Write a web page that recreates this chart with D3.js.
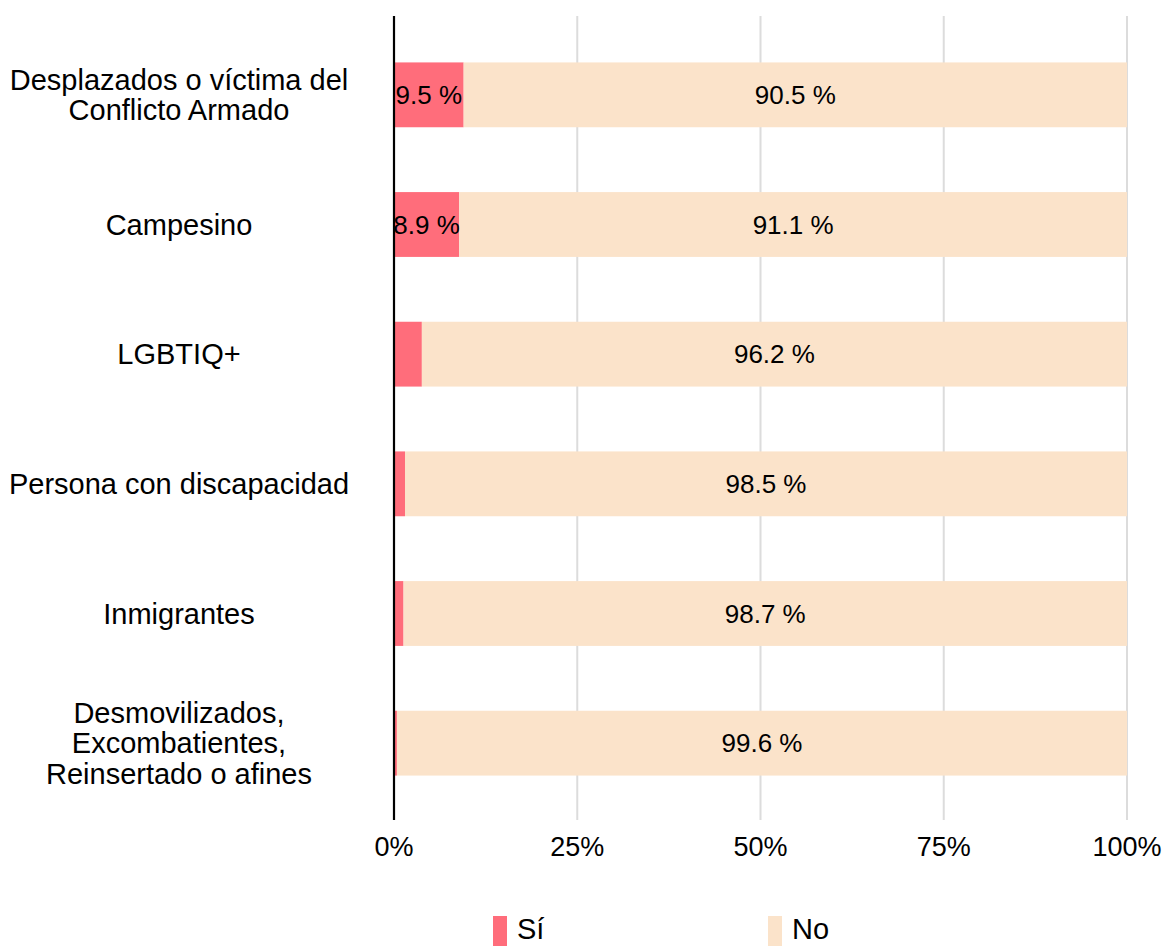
<!DOCTYPE html>
<html lang="es">
<head>
    <meta charset="utf-8">
    <title>grupos_poblacionales</title>
    <script type="text/javascript" src="https://d3js.org/d3.v7.min.js"></script>
    <style type="text/css">
        body { margin: 0; background: #fff; }
        text { font-family: "Liberation Sans", Arial, sans-serif; fill: #000; }
    </style>
</head>
<body>

<script type="text/javascript">

    // Datos
    var categories = [
        ["Desplazados o víctima del", "Conflicto Armado"],
        ["Campesino"],
        ["LGBTIQ+"],
        ["Persona con discapacidad"],
        ["Inmigrantes"],
        ["Desmovilizados,", "Excombatientes,", "Reinsertado o afines"]
    ];
    var si_values = [9.5, 8.9, 3.8, 1.5, 1.3, 0.4];
    var no_values = [90.5, 91.1, 96.2, 98.5, 98.7, 99.6];
    var series_names = ["Sí", "No"];
    var series_colors = ["#ff6d7b", "#fbe3ca"];
    var x_ticks = [0, 25, 50, 75, 100];

    var width = 1165, height = 946;
    var x0 = 394, x1 = 1127;

    var svg = d3.select("body")
        .append("svg")
        .attr("width", width)
        .attr("height", height);

    var x = d3.scaleLinear().domain([0, 100]).range([x0, x1]);
    var y = d3.scaleBand()
        .domain(d3.range(categories.length))
        .range([30, 808])
        .paddingInner(0.5)
        .paddingOuter(0.25);

    //grid lines
    svg.selectAll("line.grid")
        .data(x_ticks.slice(1))
        .enter()
        .append("line")
        .attr("class", "grid")
        .attr("x1", d => x(d))
        .attr("x2", d => x(d))
        .attr("y1", 16)
        .attr("y2", 820)
        .attr("stroke", "#dcdcdc")
        .attr("stroke-width", 2);

    // stack rows
    var rows = categories.map((c, i) => ({i: i, si: si_values[i], no: no_values[i]}));

    var g = svg.selectAll("g.row")
        .data(rows)
        .enter()
        .append("g")
        .attr("class", "row");

    g.append("rect")
        .attr("x", d => x(0))
        .attr("y", d => y(d.i))
        .attr("width", d => x(d.si) - x(0))
        .attr("height", y.bandwidth())
        .attr("fill", series_colors[0]);

    g.append("rect")
        .attr("x", d => x(d.si))
        .attr("y", d => y(d.i))
        .attr("width", d => x(d.si + d.no) - x(d.si))
        .attr("height", y.bandwidth())
        .attr("fill", series_colors[1]);

    // value labels (small ones hidden)
    g.filter(d => d.si >= 5)
        .append("text")
        .attr("x", d => (x(0) + x(d.si)) / 2)
        .attr("y", d => y(d.i) + y.bandwidth() / 2)
        .attr("dy", "0.35em")
        .attr("text-anchor", "middle")
        .attr("font-size", 26)
        .text(d => d.si.toFixed(1) + " %");

    g.append("text")
        .attr("x", d => (x(d.si) + x(d.si + d.no)) / 2)
        .attr("y", d => y(d.i) + y.bandwidth() / 2)
        .attr("dy", "0.35em")
        .attr("text-anchor", "middle")
        .attr("font-size", 26)
        .text(d => d.no.toFixed(1) + " %");

    // category labels
    g.append("text")
        .attr("x", 179)
        .attr("y", d => y(d.i) + y.bandwidth() / 2)
        .attr("text-anchor", "middle")
        .attr("font-size", 29)
        .each(function (d) {
            var lines = categories[d.i];
            var t = d3.select(this);
            lines.forEach((s, k) => {
                t.append("tspan")
                    .attr("x", 179)
                    .attr("dy", k === 0 ? (0.35 - (lines.length - 1) * 0.525) + "em" : "1.05em")
                    .text(s);
            });
        });

    // axis line
    svg.append("line")
        .attr("x1", x(0)).attr("x2", x(0))
        .attr("y1", 16).attr("y2", 820)
        .attr("stroke", "#000")
        .attr("stroke-width", 2.2);

    // x tick labels
    svg.selectAll("text.tick")
        .data(x_ticks)
        .enter()
        .append("text")
        .attr("class", "tick")
        .attr("x", d => x(d))
        .attr("y", 856)
        .attr("text-anchor", "middle")
        .attr("font-size", 27)
        .text(d => d + "%");

    // legend
    var legend_x = [493, 768];
    var lg = svg.selectAll("g.legend")
        .data(series_names)
        .enter()
        .append("g")
        .attr("class", "legend")
        .attr("transform", (d, i) => "translate(" + legend_x[i] + ",916)");

    lg.append("rect")
        .attr("width", 14)
        .attr("height", 40)
        .attr("fill", (d, i) => series_colors[i]);

    lg.append("text")
        .attr("x", 24)
        .attr("y", 23)
        .attr("font-size", 29)
        .text(d => d);

</script>
</body>
</html>
